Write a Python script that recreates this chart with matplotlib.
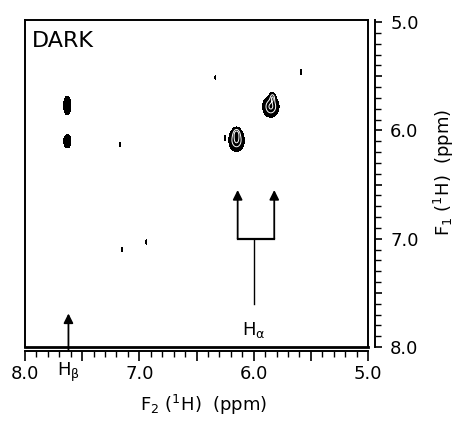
import numpy as np
import matplotlib
matplotlib.use('Agg')
import matplotlib.pyplot as plt
from matplotlib.ticker import MultipleLocator, FuncFormatter

plt.rcParams['font.family'] = 'DejaVu Sans'
plt.rcParams['mathtext.default'] = 'regular'

# cross peaks (ppm)
peak_f2 = [7.63, 7.63, 5.85, 5.835, 6.15, 6.15]
peak_f1 = [5.77, 6.10, 5.78, 5.69, 6.09, 6.02]
peak_amp = [1.0, 1.0, 1.0, 0.55, 1.0, 0.5]
peak_wx = [0.022, 0.022, 0.050, 0.016, 0.047, 0.02]
peak_wy = [0.060, 0.042, 0.068, 0.030, 0.072, 0.03]

# small noise marks
spot_f2 = [6.335, 5.585, 7.17, 6.25, 7.15, 6.94]
spot_f1 = [5.51, 5.46, 6.13, 6.07, 7.10, 7.03]

# annotation positions (ppm)
ha_left, ha_right, ha_stem = 6.14, 5.82, 6.00
ha_tip, ha_bar, ha_base = 6.55, 7.00, 7.60
hb_x, hb_tip = 7.62, 7.69

f2 = np.linspace(5.0, 8.0, 1500)
f1 = np.linspace(4.98, 8.0, 1500)
X, Y = np.meshgrid(f2, f1)

Z = np.zeros_like(X)
for x0, y0, a, sx, sy in zip(peak_f2, peak_f1, peak_amp, peak_wx, peak_wy):
    Z += a * np.exp(-((X - x0) ** 2 / (2 * sx ** 2) + (Y - y0) ** 2 / (2 * sy ** 2)))
for x0, y0 in zip(spot_f2, spot_f1):
    Z += 0.6 * np.exp(-((X - x0) ** 2 / (2 * 0.004 ** 2) + (Y - y0) ** 2 / (2 * 0.02 ** 2)))

fig = plt.figure(figsize=(4.59, 4.21), dpi=100)
ax = fig.add_axes([25 / 459, 1 - 347 / 421, 343 / 459, 327 / 421])

ax.contourf(X, Y, Z, levels=[0.35, 10], colors='black')
# white inner contours only on the right hand peaks
cols = f2 < 6.4
ax.contour(X[:, cols], Y[:, cols], Z[:, cols], levels=[0.7, 0.95], colors='white', linewidths=0.7)

ax.set_xlim(8.0, 5.0)
ax.set_ylim(8.0, 4.98)

# box edges, the real axes are offset outward
for s in ['left', 'top']:
    ax.spines[s].set_linewidth(1.4)
ax.spines['bottom'].set_position(('outward', 3))
ax.spines['right'].set_position(('outward', 5))
ax.spines['bottom'].set_linewidth(1.4)
ax.spines['right'].set_linewidth(1.4)
ax.axhline(8.0, color='black', lw=2.0, clip_on=False)
ax.axvline(5.0, color='black', lw=1.4, clip_on=False)

lbl = FuncFormatter(lambda v, p: f'{v:.1f}' if abs(v - round(v)) < 1e-6 else '')
ax.xaxis.set_major_locator(MultipleLocator(0.5))
ax.xaxis.set_minor_locator(MultipleLocator(0.1))
ax.xaxis.set_major_formatter(lbl)
ax.yaxis.set_major_locator(MultipleLocator(0.5))
ax.yaxis.set_minor_locator(MultipleLocator(0.1))
ax.yaxis.set_major_formatter(lbl)
ax.yaxis.tick_right()
ax.tick_params(axis='x', which='major', direction='out', length=7, width=1.2, labelsize=13, pad=3)
ax.tick_params(axis='x', which='minor', direction='out', length=4, width=1.0)
ax.tick_params(axis='y', which='major', direction='out', length=5, width=1.2, labelsize=13, pad=6)
ax.tick_params(axis='y', which='minor', direction='out', length=4, width=1.0)

ax.text(0.02, 0.965, 'DARK', transform=ax.transAxes, fontsize=16, va='top', ha='left')

# H-alpha bracket
arrow = dict(arrowstyle='-|>', color='black', lw=1.3, mutation_scale=14, shrinkA=0, shrinkB=0)
ax.annotate('', xy=(ha_left, ha_tip), xytext=(ha_left, ha_bar), arrowprops=arrow)
ax.annotate('', xy=(ha_right, ha_tip), xytext=(ha_right, ha_bar), arrowprops=arrow)
ax.plot([ha_left, ha_right], [ha_bar, ha_bar], color='black', lw=1.6)
ax.plot([ha_stem, ha_stem], [ha_bar, ha_base], color='black', lw=1.0)
ax.text(ha_stem, 7.84, r'H$_\alpha$', ha='center', va='center', fontsize=13)

# H-beta arrow from the axis
ax.annotate('', xy=(hb_x, hb_tip), xytext=(hb_x, 8.03), arrowprops=arrow, annotation_clip=False)
ax.text(hb_x, 8.23, r'H$_\beta$', ha='center', va='center', fontsize=13)

fig.text(204 / 459, 1 - 405 / 421, r'F$_2$ ($^1$H)  (ppm)', ha='center', va='center', fontsize=13)
fig.text(444 / 459, 1 - 172 / 421, r'F$_1$ ($^1$H)  (ppm)', ha='center', va='center',
         fontsize=13, rotation=90)

fig.savefig('out.png', dpi=100)
